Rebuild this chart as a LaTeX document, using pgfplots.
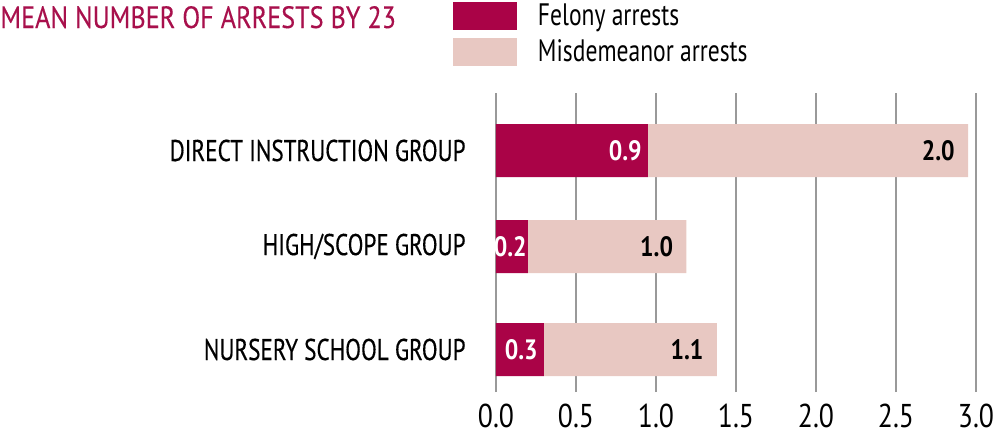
\documentclass[border=0pt]{standalone}
\usepackage{fontspec}
\setmainfont{PT Sans}[FakeStretch=0.77]
\newfontfamily\catfont{PT Sans}[FakeStretch=0.77, FakeBold=0.35]
\newfontfamily\titlefont{PT Sans}[FakeStretch=0.85, FakeBold=0.25]
\newfontfamily\numfont{PT Sans}[FakeStretch=0.84]
\newfontfamily\legfont{PT Sans}[FakeStretch=0.76]
\newfontfamily\valfont{PT Sans Bold}[FakeStretch=0.85]
\usepackage{pgfplots}
\pgfplotsset{compat=1.18}
\definecolor{felony}{HTML}{AA0347}
\definecolor{misd}{HTML}{E8C8C2}
\definecolor{titlec}{HTML}{A8104C}
\definecolor{gridc}{HTML}{999999}
\pgfplotsset{base/.style={scale only axis, width=240pt, height=149.5pt,
  xmin=0, xmax=3, ymin=-392, ymax=-93, clip=false}}
\begin{document}
\begin{tikzpicture}
\begin{axis}[
  base,
  xbar stacked, bar width=26.5pt,
  axis line style={draw=none},
  major tick length=0pt,
  xtick={0,0.5,1,1.5,2,2.5,3},
  xmajorgrids, grid style={gridc, line width=1pt},
  xticklabel style={font=\numfont\fontsize{16.5}{19}\selectfont, yshift=-2.5pt},
  /pgf/number format/.cd, fixed, fixed zerofill, precision=1, assume math mode=true, /pgfplots/.cd,
  ytick={-150.5,-246.5,-349.5},
  yticklabels={DIRECT INSTRUCTION GROUP, HIGH/SCOPE GROUP, NURSERY SCHOOL GROUP},
  yticklabel style={font=\catfont\fontsize{15}{18}\selectfont, anchor=east, inner sep=0pt, xshift=-15pt},
  legend image code/.code={\fill[#1] (0pt,-7pt) rectangle (32pt,7pt);},
  legend style={at={(axis cs:-0.26875,-2)}, anchor=north west, draw=none, fill=none,
    inner sep=0pt, outer sep=0pt, row sep=4pt, column sep=10.5pt,
    nodes={inner sep=0pt}, font=\legfont\fontsize{15.5}{18}\selectfont},
  legend cell align=left,
]
\addplot+[draw=none, fill=felony]
  coordinates {(0.95,-150.5) (0.2,-246.5) (0.3,-349.5)};
\addplot+[draw=none, fill=misd]
  coordinates {(2.0,-150.5) (0.99,-246.5) (1.08,-349.5)};
\legend{Felony arrests, Misdemeanor arrests}
\node[anchor=base west, inner sep=0pt, text=titlec, font=\titlefont\fontsize{15.4}{18}\selectfont] at (axis cs:-3.1,-28) {MEAN NUMBER OF ARRESTS BY 23};
\coordinate (bbA) at (axis cs:-3.1,0);
\coordinate (bbB) at (axis cs:3.11875,-436);
\end{axis}
\begin{axis}[base, hide axis, point meta=explicit symbolic, nodes near coords,
  every node near coord/.append style={anchor=east, inner sep=0pt, font=\valfont\fontsize{14}{16}\selectfont}]
\addplot[draw=none, mark=none, every node near coord/.append style={text=white, xshift=-3pt}]
  coordinates {(0.95,-150.5)[0.9] (0.3,-349.5)[0.3]};
\addplot[draw=none, mark=none, every node near coord/.append style={text=white, xshift=-0.5pt}]
  coordinates {(0.2,-246.5)[0.2]};
\addplot[draw=none, mark=none, every node near coord/.append style={text=black, xshift=-6.5pt}]
  coordinates {(2.95,-150.5)[2.0] (1.19,-246.5)[1.0] (1.38,-349.5)[1.1]};
\end{axis}
\pgfresetboundingbox
\path[use as bounding box] (bbA) rectangle (bbB);
\end{tikzpicture}
\end{document}
